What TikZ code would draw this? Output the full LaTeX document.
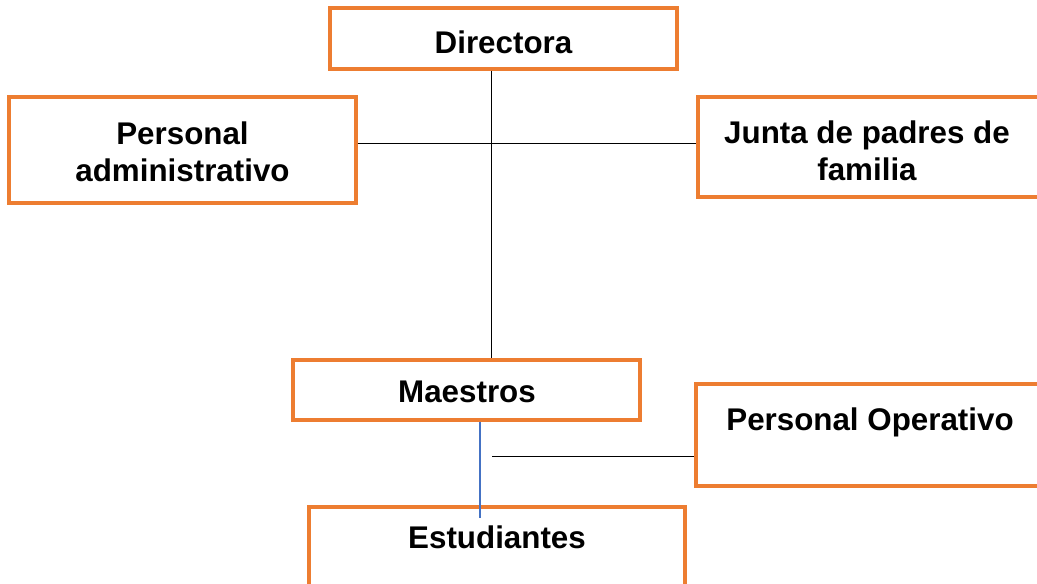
\documentclass[tikz,border=0pt]{standalone}
\usepackage{fontspec}
\setmainfont{Liberation Sans}
\usetikzlibrary{positioning}
\definecolor{boxorange}{HTML}{ED7D31}
\definecolor{lineblue}{HTML}{4472C4}

\begin{document}
\begin{tikzpicture}[x=0.75pt, y=-0.75pt,
    box/.style={rectangle, draw=boxorange, line width=2.4pt, minimum width=260.25pt, inner sep=0pt},
    lbl/.style={font=\bfseries\fontsize{23.5}{27.75}\selectfont, align=center},
    conn/.style={line width=0.75pt}
    ]
\useasboundingbox (0,0) rectangle (1037,584);
\clip (0,0) rectangle (1037,584);

\node[box, minimum height=45.75pt] (dir) at (503.5,38.5) {};
\node[box, minimum height=79.5pt] (adm) at (182.5,150) {};
\node[box, minimum height=75pt] (junta) at (871.5,147) {};
\node[box, minimum height=45pt] (mae) at (466.5,390) {};
\node[box, minimum height=76.5pt] (oper) at (869.5,435) {};
\node[box, minimum width=282pt, minimum height=76.5pt] (est) at (497,558) {};

\node[lbl] (dirtxt) at (503.5,42) {Directora};
\node[lbl] (admtxt) at (182.5,151.5) {Personal\\administrativo};
\node[lbl] (juntatxt) at (867,151) {Junta de padres de\\familia};
\node[lbl] (maetxt) at (467,392) {Maestros};
\node[lbl] (opertxt) at (870,422) {Personal Operativo};
\node[lbl] (esttxt) at (497,537) {Estudiantes};

\coordinate (trunk) at (491,144);
\coordinate (bluex) at (480,518);
\coordinate (opfoot) at (492,456);

\draw[conn] (dir.south -| trunk)--(mae.north -| trunk);
\draw[conn] (adm.east |- trunk)--(junta.west |- trunk);
\draw[conn] (opfoot)--(oper.west |- opfoot);
\draw[line width=1.2pt, lineblue] (mae.south -| bluex)--(bluex);

\end{tikzpicture}
\end{document}
